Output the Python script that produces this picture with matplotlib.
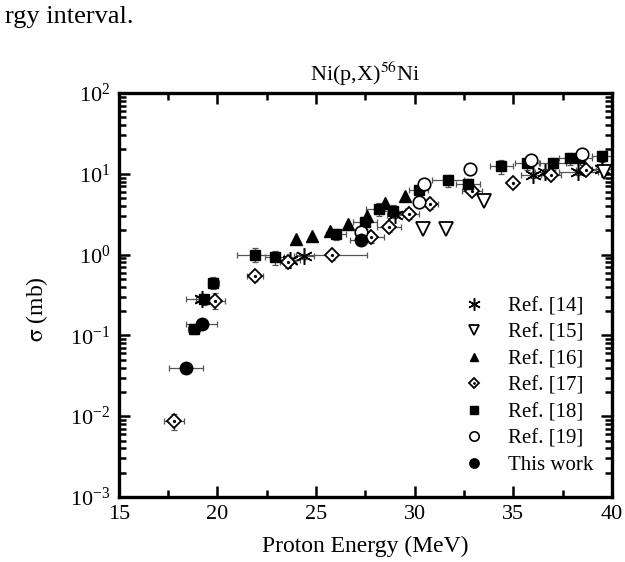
import matplotlib
matplotlib.use("Agg")
import matplotlib.pyplot as plt
from matplotlib.ticker import LogLocator, MultipleLocator, NullFormatter

plt.rcParams['font.family'] = ['Liberation Serif', 'DejaVu Serif']
plt.rcParams['mathtext.fontset'] = 'stix'

# Ref. [14]  (asterisks)
e14 = [19.2, 23.7, 24.4, 29.0, 36.0, 36.6, 38.3, 39.5]
s14 = [0.28, 0.85, 0.95, 3.1, 9.8, 10.5, 10.5, 11.5]
de14 = [0.8, 0.5, 0.5, 0.4, 0.6, 0.5, 1.0, 0.5]
ds14 = [0.03, 0.08, 0.08, 0.3, 0.8, 0.9, 0.9, 1.0]

# Ref. [15]  (open down triangles)
e15 = [30.4, 31.6, 33.5, 39.6]
s15 = [2.05, 2.1, 4.6, 10.5]

# Ref. [16]  (filled triangles)
e16 = [24.0, 24.8, 25.7, 26.6, 27.6, 28.5, 29.5]
s16 = [1.55, 1.7, 1.95, 2.4, 3.0, 4.3, 5.3]

# Ref. [17]  (open diamonds)
e17 = [17.8, 19.9, 21.9, 23.6, 25.8, 27.8, 28.7, 29.7, 30.8, 32.9, 35.0, 36.9, 38.7]
s17 = [0.0087, 0.27, 0.55, 0.8, 1.0, 1.65, 2.2, 3.2, 4.2, 6.2, 7.8, 9.8, 11.2]
de17 = [0.5, 0.5, 0.4, 0.4, 1.8, 0.65, 0.6, 0.5, 0.4, 0.5, 0.2, 0.5, 0.5]
ds17 = [0.002, 0.06, 0.08, 0.12, 0.15, 0.25, 0.3, 0.45, 0.5, 0.8, 0.9, 1.2, 1.3]

# Ref. [18]  (filled squares)
e18 = [18.8, 19.3, 19.8, 21.9, 22.9, 26.0, 27.5, 28.2, 28.9, 30.2, 31.7, 32.7,
       34.4, 35.7, 37.0, 37.9, 38.4, 39.5]
s18 = [0.12, 0.28, 0.45, 1.0, 0.93, 1.8, 2.5, 3.7, 3.5, 6.3, 8.3, 7.5,
       12.5, 13.5, 13.5, 15.5, 15.5, 16.5]
de18 = [0.3, 0.4, 0.3, 0.9, 0.5, 0.5, 0.6, 0.65, 0.6, 0.5, 0.8, 0.6,
        0.6, 0.6, 0.65, 0.6, 0.6, 0.5]
ds18 = [0.015, 0.04, 0.08, 0.2, 0.18, 0.3, 0.4, 0.7, 0.6, 1.0, 1.5, 1.2,
        2.5, 2.2, 2.2, 2.5, 2.5, 2.5]

# Ref. [19]  (open circles)
e19 = [27.3, 30.2, 30.5, 32.8, 35.9, 38.5]
s19 = [1.9, 4.5, 7.5, 11.5, 15.0, 17.5]
ds19 = [0.25, 0.7, 1.0, 1.8, 2.0, 2.5]

# This work  (filled circles)
ew = [18.4, 19.2, 27.3]
sw = [0.040, 0.14, 1.5]
dew = [0.85, 0.8, 0.6]
dsw = [0.003, 0.01, 0.1]

fig = plt.figure(figsize=(6.25, 5.62), dpi=100)
ax = fig.add_axes([0.19, 0.1157, 0.789, 0.7188])

ebkw = dict(fmt='none', ecolor='#555555', elinewidth=0.9, capsize=2.5, capthick=0.9, zorder=1)
ax.errorbar(e14, s14, xerr=de14, yerr=ds14, **ebkw)
ax.errorbar(e17, s17, xerr=de17, yerr=ds17, **ebkw)
ax.errorbar(e18, s18, xerr=de18, yerr=ds18, **ebkw)
ax.errorbar(e19, s19, yerr=ds19, **ebkw)
ax.errorbar(ew, sw, xerr=dew, yerr=dsw, **ebkw)

h14, = ax.plot(e14, s14, ls='none', marker=(6, 2, 0), ms=12, mec='black', mew=1.1, zorder=3)
h15, = ax.plot(e15, s15, ls='none', marker='v', ms=10, mfc='white', mec='black', mew=1.3, zorder=3)
h16, = ax.plot(e16, s16, ls='none', marker='^', ms=8, color='black', zorder=3)
h17, = ax.plot(e17, s17, ls='none', marker='D', ms=7, mfc='white', mec='black', mew=1.3, zorder=3)
h17d, = ax.plot(e17, s17, ls='none', marker='o', ms=1.3, color='black', zorder=4)
h18, = ax.plot(e18, s18, ls='none', marker='s', ms=7, color='black', zorder=3)
h19, = ax.plot(e19, s19, ls='none', marker='o', ms=9, mfc='white', mec='black', mew=1.2, zorder=3)
hw, = ax.plot(ew, sw, ls='none', marker='o', ms=9, color='black', zorder=3)

ax.set_yscale('log')
ax.set_xlim(15, 40)
ax.set_ylim(1e-3, 1e2)
ax.xaxis.set_major_locator(MultipleLocator(5))
ax.xaxis.set_minor_locator(MultipleLocator(2.5))
ax.yaxis.set_major_locator(LogLocator(base=10, numticks=10))
ax.yaxis.set_minor_locator(LogLocator(base=10, subs=range(2, 10), numticks=10))
ax.yaxis.set_minor_formatter(NullFormatter())

ax.tick_params(which='both', direction='in', top=True, right=True, labelsize=16, width=1.8)
ax.tick_params(which='major', length=8, pad=6)
ax.tick_params(which='minor', length=5)
for sp in ax.spines.values():
    sp.set_linewidth(2.4)

ax.set_xlabel('Proton Energy (MeV)', fontsize=17, labelpad=8)
ax.set_ylabel(r'$\mathrm{\sigma}$ (mb)', fontsize=17)
ax.yaxis.set_label_coords(-0.14, 0.465)
ax.set_title(r'Ni(p,X)$^{56}$Ni', fontsize=16, pad=9)

ax.legend([h14, h15, h16, (h17, h17d), h18, h19, hw],
          ['Ref. [14]', 'Ref. [15]', 'Ref. [16]', 'Ref. [17]', 'Ref. [18]', 'Ref. [19]', 'This work'],
          loc='lower right', bbox_to_anchor=(1.0, 0.008), frameon=False, fontsize=15,
          handlelength=1.2, handletextpad=1.0, labelspacing=0.33, markerscale=0.75)

fig.text(0.008, 0.97, 'rgy interval.', fontsize=19, va='center', ha='left')

fig.savefig('out.png', dpi=100)
